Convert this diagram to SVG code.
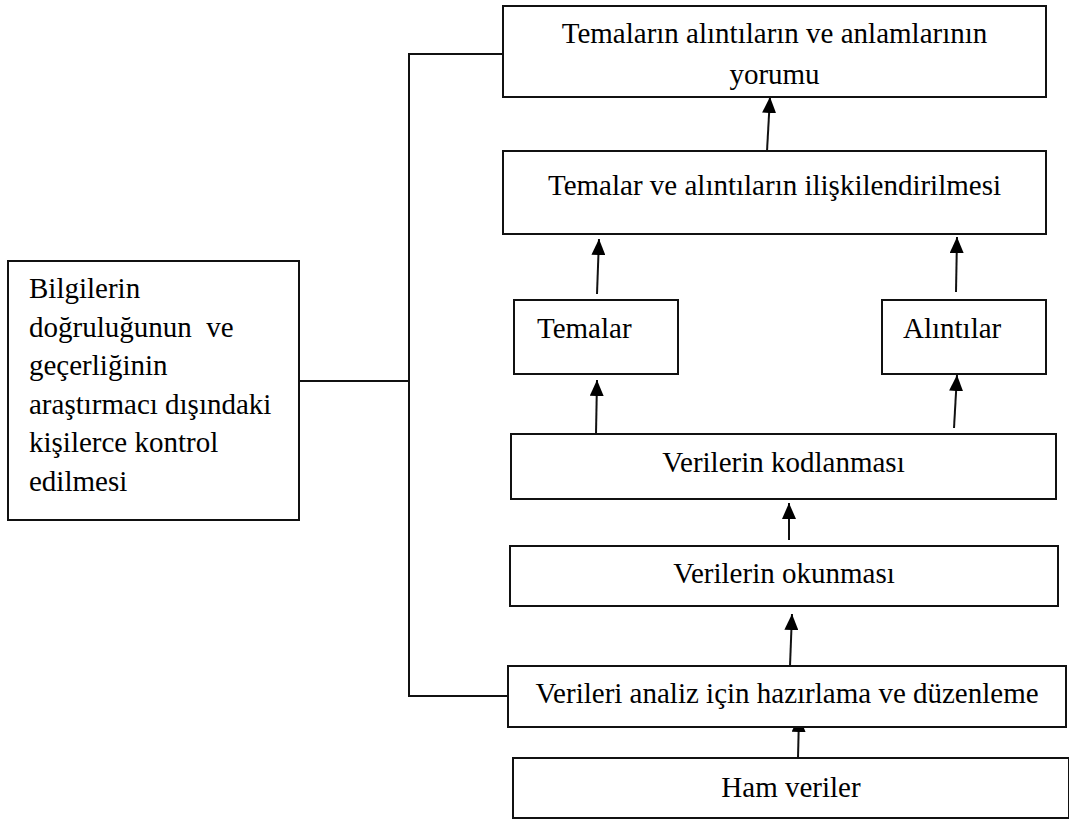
<svg xmlns="http://www.w3.org/2000/svg" width="1069" height="820" viewBox="0 0 1069 820">
  <style>
    .box { fill: #ffffff; stroke: #111111; stroke-width: 2; }
    .lbl { font-family: "Liberation Serif", "Times New Roman", serif; font-size: 29px; fill: #000000; }
    .mid { text-anchor: middle; }
    .link { fill: none; stroke: #111111; stroke-width: 2; }
    .arrow { fill: none; stroke: #111111; stroke-width: 2; marker-end: url(#head); }
  </style>
  <defs>
    <marker id="head" markerUnits="userSpaceOnUse" markerWidth="16" markerHeight="14" refX="16" refY="7" orient="auto">
      <path d="M0,0 L16,7 L0,14 z" fill="#000000"/>
    </marker>
  </defs>
  <rect width="1069" height="820" fill="#ffffff"/>

  <!-- connectors -->
  <g id="connectors">
    <polyline class="link" points="503,54 409,54 409,696 508,696"/>
    <line class="link" x1="299" y1="381" x2="409" y2="381"/>
    <line class="arrow" x1="767" y1="151" x2="770" y2="97"/>
    <line class="arrow" x1="597" y1="294" x2="599" y2="239"/>
    <line class="arrow" x1="956" y1="292" x2="957" y2="237"/>
    <line class="arrow" x1="596" y1="434" x2="597" y2="380"/>
    <line class="arrow" x1="954" y1="428" x2="957" y2="375"/>
    <line class="arrow" x1="789" y1="540" x2="789" y2="503"/>
    <line class="arrow" x1="790" y1="666" x2="792" y2="614"/>
    <line class="arrow" x1="798" y1="758" x2="799" y2="716"/>
  </g>

  <g id="yorum">
    <rect class="box" x="503" y="6" width="543" height="91"/>
    <text class="lbl mid" x="774.5" y="43">Temaların alıntıların ve anlamlarının</text>
    <text class="lbl mid" x="774.5" y="84">yorumu</text>
  </g>

  <g id="iliskilendirme">
    <rect class="box" x="503" y="151" width="543" height="83"/>
    <text class="lbl mid" x="774.5" y="195">Temalar ve alıntıların ilişkilendirilmesi</text>
  </g>

  <g id="temalar">
    <rect class="box" x="514" y="300" width="164" height="74"/>
    <text class="lbl" x="537" y="338">Temalar</text>
  </g>

  <g id="alintilar">
    <rect class="box" x="882" y="300" width="164" height="74"/>
    <text class="lbl" x="903" y="338">Alıntılar</text>
  </g>

  <g id="kodlama">
    <rect class="box" x="511" y="434" width="545" height="65"/>
    <text class="lbl mid" x="783.5" y="472">Verilerin kodlanması</text>
  </g>

  <g id="okuma">
    <rect class="box" x="510" y="546" width="548" height="60"/>
    <text class="lbl mid" x="784" y="583">Verilerin okunması</text>
  </g>

  <g id="hazirlama">
    <rect class="box" x="508" y="666" width="558" height="61"/>
    <text class="lbl mid" x="787" y="703">Verileri analiz için hazırlama ve düzenleme</text>
  </g>

  <g id="ham">
    <rect class="box" x="513" y="758" width="556" height="60"/>
    <text class="lbl mid" x="791" y="797">Ham veriler</text>
  </g>

  <g id="kontrol">
    <rect class="box" x="8" y="261" width="291" height="259"/>
    <text class="lbl" x="29" y="298">Bilgilerin</text>
    <text class="lbl" x="29" y="336.5" xml:space="preserve">doğruluğunun  ve</text>
    <text class="lbl" x="29" y="375">geçerliğinin</text>
    <text class="lbl" x="29" y="413.5">araştırmacı dışındaki</text>
    <text class="lbl" x="29" y="452">kişilerce kontrol</text>
    <text class="lbl" x="29" y="490.5">edilmesi</text>
  </g>
</svg>
